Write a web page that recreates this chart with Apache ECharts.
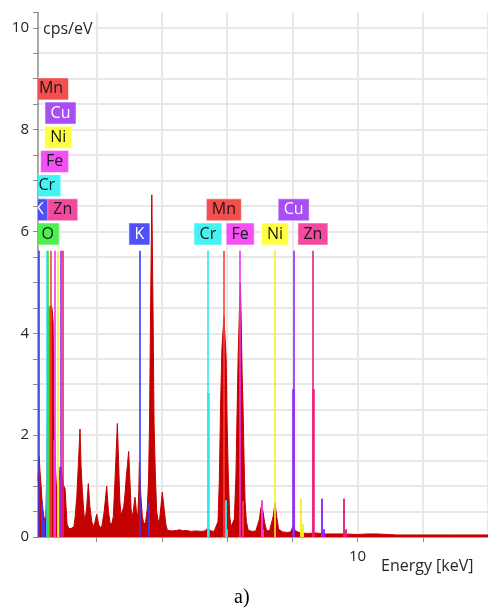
<!DOCTYPE html>
<html>
<head>
<meta charset="utf-8">
<script src="https://cdn.jsdelivr.net/npm/echarts@6/dist/echarts.min.js"></script>
<style>
  html, body { margin: 0; padding: 0; background: #fff; }
  #chart { width: 488px; height: 610px; }
</style>
</head>
<body>
<div id="chart"></div>
<script>
// EDS spectrum: energy (keV) against intensity (cps/eV)
const energies = [
  // 0.2 - 1.3 keV: light-element and L-line region
  0.20, 0.235, 0.26, 0.29, 0.32, 0.35, 0.38, 0.41, 0.44, 0.47, 0.50, 0.53, 0.58, 0.63, 0.665, 0.685,
  0.70, 0.73, 0.76, 0.79, 0.83, 0.87, 0.91, 0.95, 0.99, 1.03, 1.06, 1.09, 1.15, 1.22, 1.30,
  // Al, Si, P, S
  1.34, 1.39, 1.44, 1.488, 1.52, 1.56, 1.61, 1.64, 1.69, 1.743, 1.79, 1.85, 1.90,
  1.95, 2.00, 2.06, 2.11, 2.16, 2.23, 2.307, 2.36, 2.42,
  // Cl and neighbours
  2.47, 2.51, 2.56, 2.60, 2.633, 2.67, 2.71, 2.75, 2.79, 2.83, 2.87, 2.90, 2.94, 2.98, 3.02, 3.05, 3.08,
  3.12, 3.175, 3.22, 3.26,
  // K, Ca
  3.29, 3.31, 3.35, 3.40, 3.45, 3.50, 3.55, 3.59, 3.62, 3.65, 3.69, 3.73, 3.76, 3.80, 3.84, 3.89,
  3.93, 3.97, 4.01, 4.06, 4.12, 4.17,
  // background up to Cr
  4.30, 4.45, 4.55, 4.65, 4.75, 4.90, 5.05, 5.20, 5.32, 5.41, 5.50, 5.60,
  // Mn, Fe
  5.66, 5.72, 5.76, 5.80, 5.84, 5.88, 5.905, 5.93, 5.97, 6.00, 6.04, 6.08, 6.12,
  6.17, 6.22, 6.27, 6.31, 6.34, 6.38, 6.405, 6.43, 6.46, 6.49, 6.52, 6.55, 6.59, 6.65, 6.78, 6.88,
  // Fe Kβ, Ni, Cu
  6.93, 6.99, 7.03, 7.06, 7.10, 7.15, 7.21, 7.30, 7.36, 7.41, 7.47, 7.52, 7.58, 7.70, 7.85,
  7.95, 8.00, 8.04, 8.09,
  // tail
  8.25, 8.50, 8.70, 9.00, 9.30, 9.60, 10.0, 10.3, 10.6, 10.9, 11.2, 12.0, 13.0, 14.0
];
const counts = [
  1.10, 1.58, 1.30, 1.05, 0.75, 0.55, 0.40, 0.32, 0.40, 1.30, 3.20, 4.45, 4.55, 4.50, 4.20, 2.50,
  1.90, 1.45, 1.05, 0.85, 1.00, 1.30, 1.35, 1.15, 1.00, 0.95, 0.60, 0.25, 0.16, 0.17, 0.20,
  0.40, 0.79, 1.45, 2.12, 1.40, 0.90, 0.45, 0.32, 0.55, 1.05, 0.60, 0.30, 0.20,
  0.30, 0.45, 0.25, 0.18, 0.22, 0.50, 1.00, 0.50, 0.24,
  0.28, 0.40, 1.10, 1.70, 2.23, 1.50, 0.70, 0.42, 0.45, 0.60, 0.85, 1.12, 1.40, 1.68, 1.10, 0.60, 0.38,
  0.50, 0.78, 0.50, 0.40,
  0.90, 1.47, 0.85, 0.40, 0.25, 0.30, 0.55, 1.10, 2.20, 4.30, 6.72, 4.30, 2.20, 1.20, 0.50, 0.30,
  0.35, 0.60, 0.88, 0.60, 0.25, 0.13,
  0.12, 0.13, 0.14, 0.12, 0.13, 0.11, 0.12, 0.11, 0.12, 0.18, 0.12, 0.11,
  0.12, 0.30, 1.10, 2.60, 3.70, 4.10, 4.33, 4.00, 3.50, 2.20, 1.10, 0.40, 0.20,
  0.18, 0.35, 1.20, 2.60, 3.60, 4.50, 4.98, 4.30, 3.20, 2.50, 1.50, 0.70, 0.30, 0.13, 0.11, 0.12,
  0.15, 0.35, 0.55, 0.62, 0.50, 0.28, 0.13, 0.12, 0.13, 0.40, 0.67, 0.40, 0.15, 0.10, 0.09,
  0.10, 0.18, 0.22, 0.12,
  0.08, 0.07, 0.08, 0.06, 0.06, 0.06, 0.05, 0.06, 0.06, 0.05, 0.04, 0.04, 0.04, 0.04
];

// Identified lines that carry an element tag (tag row 0 sits just above the line tops)
const tagElements = ['K', 'Cr', 'O', 'Mn', 'Fe', 'Ni', 'Cu', 'Zn', 'K', 'Cr', 'Mn', 'Fe', 'Ni', 'Cu', 'Zn'];
const tagEnergies = [0.23, 0.47, 0.50, 0.60, 0.71, 0.82, 0.89, 0.96, 3.31, 5.41, 5.90, 6.40, 7.47, 8.04, 8.63];
const tagRows     = [1, 2, 0, 6, 3, 4, 5, 1, 0, 0, 1, 0, 0, 1, 0];
const tagLineTop  = 5.62;

// Solid lower part of some tagged lines (line intensity)
const markElements = ['O', 'Fe', 'Ni', 'Cu', 'Cr', 'Cu', 'Zn'];
const markEnergies = [0.50, 0.71, 0.82, 0.89, 5.41, 8.04, 8.63];
const markHeights  = [4.52, 1.90, 1.12, 1.38, 2.83, 2.90, 2.90];

// Minor lines (Kβ and weaker) without a tag
const minorElements = ['K', 'K', 'K', 'Cr', 'Mn', 'Fe', 'Ni', 'Cu', 'Zn', 'Cr', 'Fe', 'Ni', 'Cu', 'Zn'];
const minorEnergies = [0.33, 0.38, 3.59, 5.95, 6.49, 7.06, 8.26, 8.90, 9.57, 5.99, 7.09, 8.31, 8.95, 9.65];
const minorHeights  = [0.69, 0.33, 0.67, 0.72, 0.70, 0.72, 0.75, 0.75, 0.75, 0.15, 0.15, 0.25, 0.15, 0.15];

// Axis ticks
const yLabelValues = [0, 2, 4, 6, 8, 10];
const xTickValues  = [2, 4, 6, 8, 10, 12, 14];
const xLabelValues = [10];

const palette = {
  K:  { line: '#3a3af0', tag: '#4848f2', text: '#ffffff' },
  Cr: { line: '#2ee6ee', tag: '#3cf2f2', text: '#1a1a1a' },
  O:  { line: '#36e236', tag: '#44ee44', text: '#1a1a1a' },
  Mn: { line: '#ff3c3c', tag: '#f24646', text: '#1a1a1a' },
  Fe: { line: '#ee36ee', tag: '#f248f2', text: '#1a1a1a' },
  Ni: { line: '#f2f022', tag: '#ffff3a', text: '#1a1a1a' },
  Cu: { line: '#9424f8', tag: '#a444f2', text: '#ffffff' },
  Zn: { line: '#f01c7a', tag: '#f2409a', text: '#1a1a1a' }
};

const FONT = '"Open Sans", "Noto Sans", sans-serif';
const TAG_FONT = '16px ' + FONT;
const tagBase = 5.95, tagStep = 0.475;

const measureCtx = document.createElement('canvas').getContext('2d');
function textWidth(s, font) {
  measureCtx.font = font;
  return measureCtx.measureText(s).width;
}

const chart = echarts.init(document.getElementById('chart'), null, { renderer: 'canvas' });

const spectrum = energies.map((e, i) => [e, counts[i]]);

function segs(names, es, hs, top) {
  return es.map((e, i) => ({
    coords: [[e, 0], [e, top !== undefined ? top : hs[i]]],
    lineStyle: { color: palette[names[i]].line }
  }));
}

chart.setOption({
  animation: false,
  backgroundColor: '#ffffff',
  grid: { left: 38, right: 0, top: 12.5, bottom: 73, containLabel: false },
  xAxis: {
    type: 'value',
    min: 0.2,
    max: 14,
    axisLine: { show: true, lineStyle: { color: '#8c8c8c', width: 1.5 } },
    axisTick: { show: true, customValues: xTickValues, length: 5, lineStyle: { color: '#8c8c8c' } },
    axisLabel: { customValues: xLabelValues, margin: 12, color: '#262626', fontSize: 15, fontFamily: FONT },
    splitLine: { show: true, lineStyle: { color: '#e8e8e8', width: 2 } }
  },
  yAxis: {
    type: 'value',
    min: 0,
    max: 10.3,
    interval: 0.5,
    axisLine: { show: true, lineStyle: { color: '#8c8c8c', width: 1.5 } },
    axisTick: { show: true, length: 5, lineStyle: { color: '#8c8c8c' } },
    axisLabel: {
      margin: 9, color: '#262626', fontSize: 15, fontFamily: FONT,
      formatter: v => (yLabelValues.indexOf(v) >= 0 ? String(v) : '')
    },
    splitLine: { show: true, showMaxLine: false, lineStyle: { color: '#e8e8e8', width: 2 } }
  },
  graphic: [
    { type: 'text', left: 41, top: 20, z: 100,
      style: { text: 'cps/eV', font: '16px ' + FONT, fill: '#262626', backgroundColor: '#ffffff', padding: [1, 2] } },
    { type: 'text', left: 381, top: 558, z: 100,
      style: { text: 'Energy [keV]', font: '16px ' + FONT, fill: '#262626' } },
    { type: 'text', left: 234, top: 588, z: 100,
      style: { text: 'a)', font: '20px "Liberation Serif", "DejaVu Serif", serif', fill: '#000000' } }
  ],
  series: [
    {
      name: 'spectrum',
      type: 'line',
      data: spectrum,
      symbol: 'none',
      z: 2,
      lineStyle: { color: '#c40000', width: 1 },
      areaStyle: { color: '#c40000', opacity: 1 },
      silent: true
    },
    {
      name: 'tagged lines',
      type: 'lines',
      coordinateSystem: 'cartesian2d',
      z: 4,
      silent: true,
      lineStyle: { width: 2, opacity: 0.8 },
      data: segs(tagElements, tagEnergies, null, tagLineTop)
    },
    {
      name: 'line intensity',
      type: 'lines',
      coordinateSystem: 'cartesian2d',
      z: 5,
      silent: true,
      lineStyle: { width: 2.5, opacity: 1 },
      data: segs(markElements, markEnergies, markHeights)
    },
    {
      name: 'minor lines',
      type: 'lines',
      coordinateSystem: 'cartesian2d',
      z: 5,
      silent: true,
      lineStyle: { width: 2, opacity: 0.95 },
      data: segs(minorElements, minorEnergies, minorHeights)
    },
    {
      name: 'tags',
      type: 'custom',
      clip: true,
      z: 10,
      silent: true,
      data: tagEnergies.map((e, i) => [e, tagBase + tagStep * tagRows[i], i]),
      encode: { x: 0, y: 1 },
      renderItem: function (params, api) {
        const i = api.value(2);
        const name = tagElements[i];
        const p = api.coord([api.value(0), api.value(1)]);
        const w = Math.round(textWidth(name, TAG_FONT) + 11);
        const h = 22;
        return {
          type: 'rect',
          shape: { x: p[0] - w / 2, y: p[1] - h / 2, width: w, height: h },
          style: { fill: palette[name].tag, stroke: 'rgba(255,255,255,0.55)', lineWidth: 1, opacity: 0.95 },
          textContent: { style: { text: name, fill: palette[name].text, font: TAG_FONT } },
          textConfig: { position: 'inside' }
        };
      }
    }
  ]
});
</script>
</body>
</html>
